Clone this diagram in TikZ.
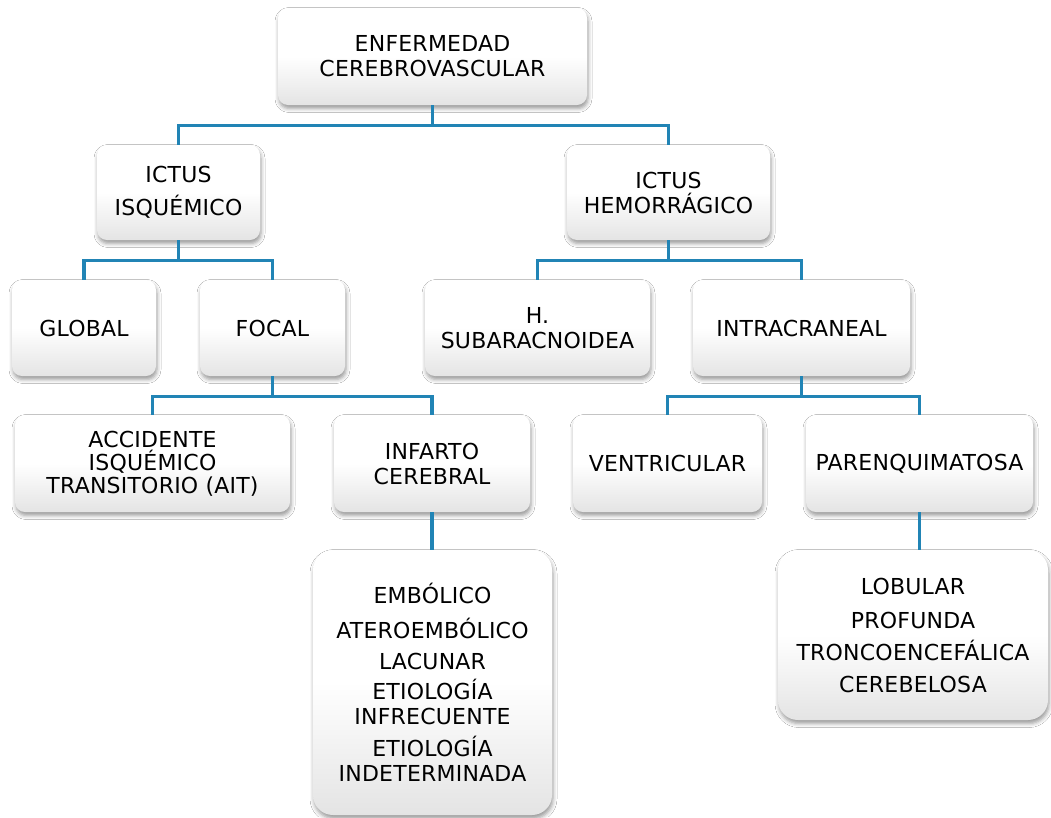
\documentclass[tikz,border=0pt]{standalone}
\usepackage{fontspec}
\newfontfamily\boxfont[LetterSpace=1]{DejaVu Sans}
\usetikzlibrary{shadows.blur}
\definecolor{conncol}{RGB}{33,132,181}
\definecolor{boxgray}{RGB}{228,228,228}
\tikzset{
  box/.style={rounded corners=10pt, top color=white, bottom color=boxgray, middle color=white,
    draw=none, align=center, inner sep=3pt, text=black,
    font=\boxfont\fontsize{22}{25}\selectfont,
    blur shadow={shadow xshift=1pt, shadow yshift=-3.5pt, shadow blur radius=4pt, shadow opacity=40}},
  bigbox/.style={box, rounded corners=20pt},
  conn/.style={draw=conncol, line width=3.2pt},
}
\begin{document}
\begin{tikzpicture}[x=1pt,y=-1pt]
\useasboundingbox (0,0) rectangle (1051,817);
\fill[white] (0,0) rectangle (1051,817);
% nodes
\node[box, minimum width=309pt, minimum height=97pt] (top) at (432.5,56.5) {ENFERMEDAD\\CEREBROVASCULAR};
\node[box, minimum width=163pt, minimum height=95pt] (isq) at (178.5,192.5) {ICTUS\\[8pt]ISQUÉMICO};
\node[box, minimum width=203pt, minimum height=95pt] (hem) at (668.5,192.5) {ICTUS\\HEMORRÁGICO};
\node[box, minimum width=144pt, minimum height=96pt] (glob) at (84,328) {GLOBAL};
\node[box, minimum width=145pt, minimum height=96pt] (foc) at (272.5,328) {FOCAL};
\node[box, minimum width=225pt, minimum height=96pt] (sub) at (537.5,328) {H.\\SUBARACNOIDEA};
\node[box, minimum width=217pt, minimum height=96pt] (intra) at (801.5,328) {INTRACRANEAL};
\node[box, minimum width=275pt, minimum height=97pt] (ait) at (152.5,463.5) {ACCIDENTE\\[-2pt]ISQUÉMICO\\[-2pt]TRANSITORIO (AIT)};
\node[box, minimum width=196pt, minimum height=97pt] (inf) at (432,463.5) {INFARTO\\CEREBRAL};
\node[box, minimum width=189pt, minimum height=97pt] (vent) at (667.5,463.5) {VENTRICULAR};
\node[box, minimum width=227pt, minimum height=97pt] (par) at (919.5,463.5) {PARENQUIMATOSA};
\node[bigbox, minimum width=239pt, minimum height=265pt] (emb) at (432.5,682.5)
  {EMBÓLICO\\[10pt]ATEROEMBÓLICO\\[6pt]LACUNAR\\[5pt]ETIOLOGÍA\\INFRECUENTE\\[7pt]ETIOLOGÍA\\INDETERMINADA};
\node[bigbox, minimum width=270pt, minimum height=170pt] (lob) at (913,635)
  {LOBULAR\\[9pt]PROFUNDA\\[7pt]TRONCOENCEFÁLICA\\[7pt]CEREBELOSA};
% connectors
\draw[conn] (top.south) -- ++(0,20) -| (isq.north);
\draw[conn] (top.south) ++(0,20) -| (hem.north);
\draw[conn] (isq.south) -- ++(0,20) -| (glob.north);
\draw[conn] (isq.south) ++(0,20) -| (foc.north);
\draw[conn] (hem.south) -- ++(0,20) -| (sub.north);
\draw[conn] (hem.south) ++(0,20) -| (intra.north);
\draw[conn] (foc.south) -- ++(0,20) -| (ait.north);
\draw[conn] (foc.south) ++(0,20) -| (inf.north);
\draw[conn] (intra.south) -- ++(0,20) -| (vent.north);
\draw[conn] (intra.south) ++(0,20) -| (par.north);
\draw[conn] (inf.south) -- (inf.south |- emb.north);
\draw[conn] (par.south) -- (par.south |- lob.north);
\end{tikzpicture}
\end{document}
